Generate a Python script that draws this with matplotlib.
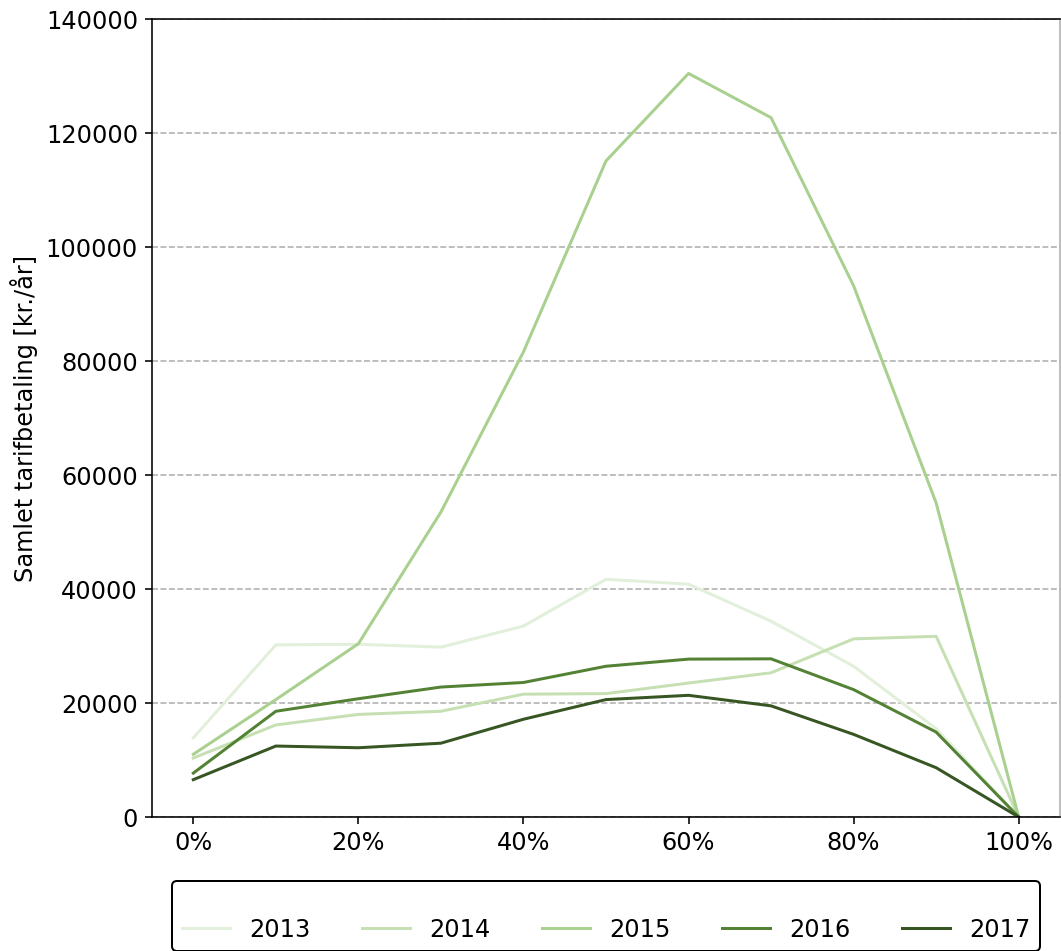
import matplotlib
matplotlib.use("Agg")
import matplotlib.pyplot as plt
from matplotlib.ticker import PercentFormatter, MultipleLocator

# --- Data: annual tariff payment per load share ---
SHARE = [0.0, 0.1, 0.2, 0.3, 0.4, 0.5, 0.6, 0.7, 0.8, 0.9, 1.0]
YEARS = ["2013", "2014", "2015", "2016", "2017"]
PAY_2013 = [13900, 30200, 30300, 29800, 33500, 41700, 40850, 34350, 26450, 15500, 0]
PAY_2014 = [10350, 16150, 18000, 18550, 21550, 21650, 23500, 25300, 31250, 31700, 0]
PAY_2015 = [11000, 20600, 30400, 53500, 81600, 115100, 130450, 122700, 93200, 55100, 0]
PAY_2016 = [7700, 18550, 20750, 22800, 23600, 26450, 27700, 27750, 22350, 14900, 0]
PAY_2017 = [6550, 12450, 12150, 12950, 17150, 20600, 21350, 19500, 14500, 8650, 0]
COLORS = ["#e2efda", "#c6e0b4", "#a9d08e", "#548235", "#375623"]

DPI = 144


def main():
    plt.rcParams["font.size"] = 12
    fig = plt.figure(figsize=(1061 / DPI, 951 / DPI), dpi=DPI)
    ax = fig.add_axes([0.1433, 0.1409, 0.8557, 0.8391])

    series = [PAY_2013, PAY_2014, PAY_2015, PAY_2016, PAY_2017]
    for year, values, color in zip(YEARS, series, COLORS):
        ax.plot(SHARE, values, color=color, lw=1.5, label=year)

    ax.set_ylim(0, 140000)
    ax.yaxis.set_major_locator(MultipleLocator(20000))
    ax.xaxis.set_major_locator(MultipleLocator(0.2))
    ax.xaxis.set_major_formatter(PercentFormatter(xmax=1, decimals=0))
    ax.grid(axis="y", linestyle="--", color="#b0b0b0", lw=0.8)
    ax.set_axisbelow(True)
    ax.spines["right"].set_color("#b0b0b0")
    ax.set_ylabel("Samlet tarifbetaling [kr./år]")

    # legend sits below the axes with a blank title line on top
    leg = ax.legend(loc="upper center", bbox_to_anchor=(0.5, -0.0802), ncol=5,
                    frameon=True, framealpha=1, fancybox=True, borderaxespad=0,
                    columnspacing=2.15, title=" ", title_fontsize=8)
    leg.get_frame().set_edgecolor("black")

    fig.savefig("out.png", dpi=DPI)


if __name__ == "__main__":
    main()
